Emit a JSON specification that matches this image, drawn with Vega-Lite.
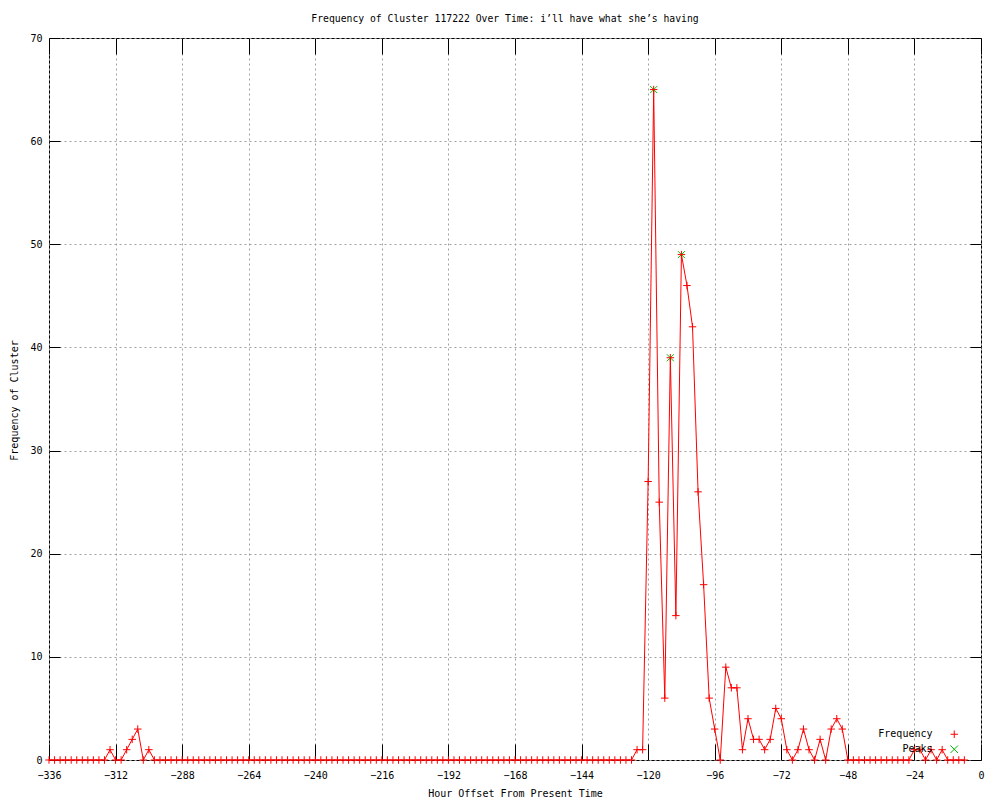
{
  "$schema": "https://vega.github.io/schema/vega-lite/v6.json",
  "autosize": {"type": "none"},
  "padding": {"left": 49, "top": 38, "right": 19, "bottom": 40},
  "width": 932,
  "height": 722,
  "background": "white",
  "config": {
    "font": "DejaVu Sans Mono",
    "view": {"stroke": "black", "strokeWidth": 1},
    "legend": {
      "title": null,
      "orient": "none",
      "legendX": 900.25,
      "legendY": 691.25,
      "padding": 0,
      "labelFont": "DejaVu Sans Mono", "labelFontSize": 10, "labelColor": "black",
      "labelAlign": "right", "labelOffset": -26.75,
      "symbolSize": 56, "symbolStrokeWidth": 1, "symbolOpacity": 1,
      "rowPadding": 3
    }
  },
  "title": {
    "text": "Frequency of Cluster 117222 Over Time: i’ll have what she’s having",
    "fontSize": 9.75,
    "fontWeight": "normal",
    "font": "DejaVu Sans Mono",
    "color": "black",
    "dx": -10,
    "offset": 9
  },
  "datasets": {
    "freq": [
      {"h":-336,"f":0},{"h":-334,"f":0},{"h":-332,"f":0},{"h":-330,"f":0},{"h":-328,"f":0},{"h":-326,"f":0},{"h":-324,"f":0},{"h":-322,"f":0},{"h":-320,"f":0},{"h":-318,"f":0},{"h":-316,"f":0},
      {"h":-314,"f":1},{"h":-312,"f":0},{"h":-310,"f":0},{"h":-308,"f":1},{"h":-306,"f":2},{"h":-304,"f":3},{"h":-302,"f":0},{"h":-300,"f":1},
      {"h":-298,"f":0},{"h":-296,"f":0},{"h":-294,"f":0},{"h":-292,"f":0},{"h":-290,"f":0},{"h":-288,"f":0},{"h":-286,"f":0},{"h":-284,"f":0},{"h":-282,"f":0},{"h":-280,"f":0},
      {"h":-278,"f":0},{"h":-276,"f":0},{"h":-274,"f":0},{"h":-272,"f":0},{"h":-270,"f":0},{"h":-268,"f":0},{"h":-266,"f":0},{"h":-264,"f":0},{"h":-262,"f":0},{"h":-260,"f":0},
      {"h":-258,"f":0},{"h":-256,"f":0},{"h":-254,"f":0},{"h":-252,"f":0},{"h":-250,"f":0},{"h":-248,"f":0},{"h":-246,"f":0},{"h":-244,"f":0},{"h":-242,"f":0},{"h":-240,"f":0},
      {"h":-238,"f":0},{"h":-236,"f":0},{"h":-234,"f":0},{"h":-232,"f":0},{"h":-230,"f":0},{"h":-228,"f":0},{"h":-226,"f":0},{"h":-224,"f":0},{"h":-222,"f":0},{"h":-220,"f":0},
      {"h":-218,"f":0},{"h":-216,"f":0},{"h":-214,"f":0},{"h":-212,"f":0},{"h":-210,"f":0},{"h":-208,"f":0},{"h":-206,"f":0},{"h":-204,"f":0},{"h":-202,"f":0},{"h":-200,"f":0},
      {"h":-198,"f":0},{"h":-196,"f":0},{"h":-194,"f":0},{"h":-192,"f":0},{"h":-190,"f":0},{"h":-188,"f":0},{"h":-186,"f":0},{"h":-184,"f":0},{"h":-182,"f":0},{"h":-180,"f":0},
      {"h":-178,"f":0},{"h":-176,"f":0},{"h":-174,"f":0},{"h":-172,"f":0},{"h":-170,"f":0},{"h":-168,"f":0},{"h":-166,"f":0},{"h":-164,"f":0},{"h":-162,"f":0},{"h":-160,"f":0},
      {"h":-158,"f":0},{"h":-156,"f":0},{"h":-154,"f":0},{"h":-152,"f":0},{"h":-150,"f":0},{"h":-148,"f":0},{"h":-146,"f":0},{"h":-144,"f":0},{"h":-142,"f":0},{"h":-140,"f":0},
      {"h":-138,"f":0},{"h":-136,"f":0},{"h":-134,"f":0},{"h":-132,"f":0},{"h":-130,"f":0},{"h":-128,"f":0},{"h":-126,"f":0},
      {"h":-124,"f":1},{"h":-122,"f":1},{"h":-120,"f":27},{"h":-118,"f":65},{"h":-116,"f":25},{"h":-114,"f":6},{"h":-112,"f":39},{"h":-110,"f":14},
      {"h":-108,"f":49},{"h":-106,"f":46},{"h":-104,"f":42},{"h":-102,"f":26},{"h":-100,"f":17},{"h":-98,"f":6},{"h":-96,"f":3},{"h":-94,"f":0},
      {"h":-92,"f":9},{"h":-90,"f":7},{"h":-88,"f":7},{"h":-86,"f":1},{"h":-84,"f":4},{"h":-82,"f":2},{"h":-80,"f":2},{"h":-78,"f":1},
      {"h":-76,"f":2},{"h":-74,"f":5},{"h":-72,"f":4},{"h":-70,"f":1},{"h":-68,"f":0},{"h":-66,"f":1},{"h":-64,"f":3},{"h":-62,"f":1},
      {"h":-60,"f":0},{"h":-58,"f":2},{"h":-56,"f":0},{"h":-54,"f":3},{"h":-52,"f":4},{"h":-50,"f":3},{"h":-48,"f":0},
      {"h":-46,"f":0},{"h":-44,"f":0},{"h":-42,"f":0},{"h":-40,"f":0},{"h":-38,"f":0},{"h":-36,"f":0},{"h":-34,"f":0},{"h":-32,"f":0},{"h":-30,"f":0},{"h":-28,"f":0},{"h":-26,"f":0},
      {"h":-24,"f":1},{"h":-22,"f":1},{"h":-20,"f":0},{"h":-18,"f":1},{"h":-16,"f":0},{"h":-14,"f":1},{"h":-12,"f":0},{"h":-10,"f":0},{"h":-8,"f":0},{"h":-6,"f":0}
    ],
    "peaks": [
      {"h":-118,"f":65},{"h":-112,"f":39},{"h":-108,"f":49}
    ]
  },
  "resolve": {"axis": {"x": "independent", "y": "independent"}},
  "layer": [
    {
      "data": {"name": "freq"},
      "mark": {"type": "line", "color": "#ff0000", "strokeWidth": 1},
      "encoding": {
        "x": {
          "field": "h", "type": "quantitative",
          "scale": {"domain": [-336, 0], "nice": false, "zero": false},
          "axis": {
            "orient": "bottom",
            "values": [-336,-312,-288,-264,-240,-216,-192,-168,-144,-120,-96,-72,-48,-24,0],
            "title": "Hour Offset From Present Time",
            "titleFont": "DejaVu Sans Mono", "titleFontSize": 10, "titleFontWeight": "normal", "titleColor": "black",
            "titleY": 36, "titleBaseline": "alphabetic",
            "labelFont": "DejaVu Sans Mono", "labelFontSize": 10, "labelColor": "black",
            "labelBaseline": "alphabetic", "labelPadding": 34, "labelFlush": false, "labelOverlap": false,
            "domain": false,
            "ticks": true, "tickSize": -16, "tickColor": "black", "tickWidth": 1,
            "grid": true, "gridColor": "#a0a0a0", "gridDash": [2, 3], "gridWidth": 1
          }
        },
        "y": {
          "field": "f", "type": "quantitative",
          "scale": {"domain": [0, 70], "nice": false},
          "axis": {
            "orient": "left",
            "values": [0,10,20,30,40,50,60,70],
            "title": "Frequency of Cluster",
            "titleFont": "DejaVu Sans Mono", "titleFontSize": 10, "titleFontWeight": "normal", "titleColor": "black",
            "titleX": -32, "titleY": 362, "titleBaseline": "alphabetic", "titleAlign": "center", "titleAngle": -90,
            "labelFont": "DejaVu Sans Mono", "labelFontSize": 10, "labelColor": "black",
            "labelPadding": 18, "labelFlush": false, "labelOverlap": false,
            "domain": false,
            "ticks": true, "tickSize": -11, "tickColor": "black", "tickWidth": 1,
            "grid": true, "gridColor": "#a0a0a0", "gridDash": [2, 3], "gridWidth": 1
          }
        }
      }
    },
    {
      "data": {"name": "peaks"},
      "mark": {"type": "point", "size": 49, "filled": false, "strokeWidth": 1, "opacity": 1},
      "encoding": {
        "x": {
          "field": "h", "type": "quantitative",
          "axis": {
            "orient": "top",
            "values": [-336,-312,-288,-264,-240,-216,-192,-168,-144,-120,-96,-72,-48,-24,0],
            "labels": false, "title": null, "domain": false, "grid": false,
            "ticks": true, "tickSize": -16, "tickColor": "black", "tickWidth": 1
          }
        },
        "y": {
          "field": "f", "type": "quantitative",
          "axis": {
            "orient": "right",
            "values": [0,10,20,30,40,50,60,70],
            "labels": false, "title": null, "domain": false, "grid": false,
            "ticks": true, "tickSize": -11, "tickColor": "black", "tickWidth": 1
          }
        },
        "color": {
          "datum": "Peaks",
          "scale": {"domain": ["Frequency", "Peaks"], "range": ["#ff0000", "#00c000"]},
          "legend": {"title": null}
        },
        "shape": {
          "datum": "Peaks",
          "scale": {"domain": ["Frequency", "Peaks"], "range": ["M-1,0H1M0,-1V1", "M-1,-1L1,1M-1,1L1,-1"]},
          "legend": {"title": null}
        }
      }
    },
    {
      "data": {"name": "freq"},
      "mark": {"type": "point", "size": 56, "filled": false, "strokeWidth": 1, "opacity": 1},
      "encoding": {
        "x": {"field": "h", "type": "quantitative", "axis": null},
        "y": {"field": "f", "type": "quantitative", "axis": null},
        "color": {"datum": "Frequency", "legend": {"title": null}},
        "shape": {"datum": "Frequency", "legend": {"title": null}}
      }
    }
  ]
}
